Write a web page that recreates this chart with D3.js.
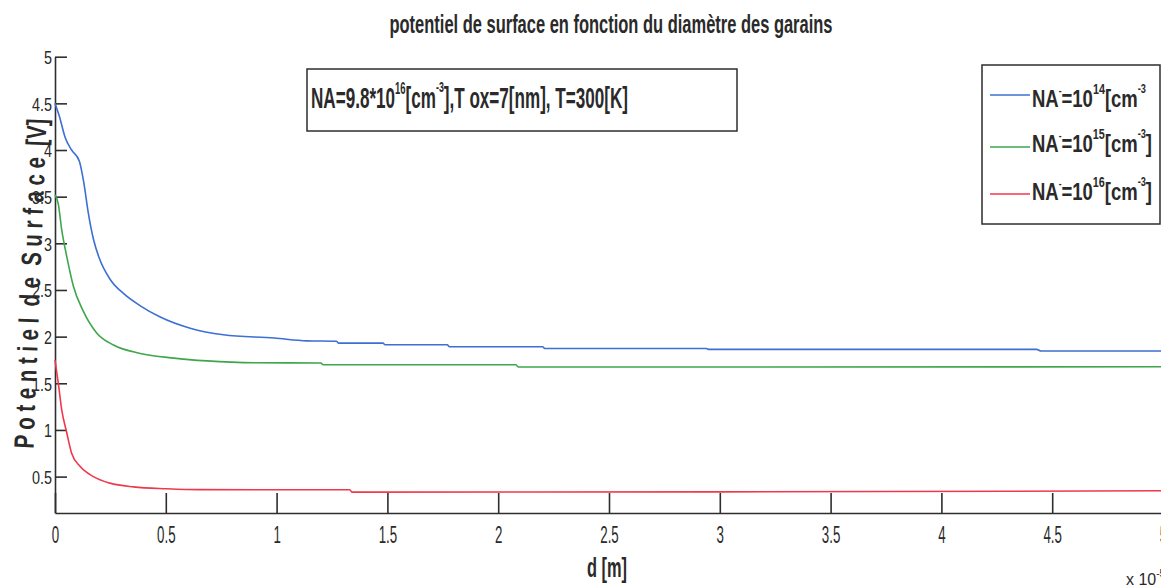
<!DOCTYPE html>
<html><head><meta charset="utf-8">
<script src="https://cdn.jsdelivr.net/npm/d3@7"></script>
<style>
html,body{margin:0;padding:0;background:#fff;}
svg{display:block;}
text{font-family:"Liberation Sans Narrow","Arial Narrow","Liberation Sans",Arial,sans-serif;fill:#2a2a2a;}
</style></head><body>
<svg id="chart" width="1161" height="587"></svg>
<script>
// ---------- data (d in units of 1e-5 m, V in volts) ----------
const titleText = "potentiel de surface en fonction du diamètre des garains";
const xLabelText = "d [m]";
const yLabelText = "P o t e n t i e l  d e  S u r f a c e  [V]";
const xTickValues = [0, 0.5, 1, 1.5, 2, 2.5, 3, 3.5, 4, 4.5, 5];
const xTickLabels = ["0", "0.5", "1", "1.5", "2", "2.5", "3", "3.5", "4", "4.5", "5"];
const yTickValues = [0.5, 1, 1.5, 2, 2.5, 3, 3.5, 4, 4.5, 5];
const yTickLabels = ["0.5", "1", "1.5", "2", "2.5", "3", "3.5", "4", "4.5", "5"];

const blueD = [0, 0.02, 0.045, 0.075, 0.11, 0.13, 0.15, 0.175, 0.2, 0.25, 0.31, 0.385, 0.475, 0.61, 0.76, 0.99, 1.136, 1.27, 1.28, 1.48, 1.49, 1.77, 1.78, 2.2, 2.21, 2.94, 2.95, 4.43, 4.45, 5];
const blueV = [4.5, 4.36, 4.14, 4.0, 3.88, 3.65, 3.33, 3.03, 2.84, 2.61, 2.46, 2.33, 2.21, 2.09, 2.02, 1.985, 1.955, 1.95, 1.931, 1.931, 1.913, 1.913, 1.892, 1.892, 1.873, 1.873, 1.863, 1.863, 1.846, 1.846];

const greenD = [0, 0.015, 0.03, 0.053, 0.083, 0.128, 0.188, 0.264, 0.385, 0.536, 0.686, 0.9, 1.2, 1.21, 2.08, 2.09, 5];
const greenV = [3.52, 3.42, 3.15, 2.86, 2.54, 2.27, 2.04, 1.91, 1.82, 1.77, 1.74, 1.72, 1.717, 1.699, 1.699, 1.675, 1.677];

const redD = [0, 0.015, 0.03, 0.053, 0.075, 0.113, 0.173, 0.248, 0.354, 0.504, 0.654, 1.33, 1.34, 3.0, 5];
const redV = [1.75, 1.5, 1.22, 0.97, 0.75, 0.61, 0.5, 0.43, 0.39, 0.37, 0.36, 0.359, 0.334, 0.336, 0.348];

const seriesNames = ["NA-=1e14", "NA-=1e15", "NA-=1e16"];
const seriesColors = ["#3d6fd4", "#3ea64c", "#f0384c"];
const legendExponents = ["14", "15", "16"];
const legendClosers = ["", "]", "]"];

// ---------- layout ----------
const svg = d3.select("#chart");
const x = d3.scaleLinear().domain([0, 5]).range([55, 1163]);
const y = d3.scaleLinear().domain([0.11, 5]).range([513, 56.7]);
const axisColor = "#2e2e2e";

function fitWidth(sel, perChar) {
  sel.each(function () {
    const s = this.textContent;
    let w = 0;
    for (const c of s) w += (c === "." ? perChar * 0.5 : perChar);
    d3.select(this).attr("textLength", w).attr("lengthAdjust", "spacingAndGlyphs");
  });
}

// title
svg.append("text").attr("x", 611).attr("y", 33).attr("text-anchor", "middle")
  .attr("font-size", 25).attr("font-weight", "bold")
  .attr("textLength", 443).attr("lengthAdjust", "spacingAndGlyphs")
  .text(titleText);

// axes
const xAxis = d3.axisBottom(x).tickValues(xTickValues).tickFormat((d, i) => xTickLabels[i])
  .tickSizeInner(-20).tickSizeOuter(0).tickPadding(4);
const gx = svg.append("g").attr("transform", "translate(0,513)").call(xAxis);
gx.attr("font-family", null);
gx.select(".domain").attr("stroke", axisColor).attr("stroke-width", 1.6);
gx.selectAll(".tick line").attr("stroke", axisColor).attr("stroke-width", 1.6);
gx.selectAll(".tick text").attr("y", 30).attr("dy", null)
  .attr("font-size", 23).attr("fill", "#3a3a3a").call(fitWidth, 7.4);

const yAxis = d3.axisLeft(y).tickValues(yTickValues).tickFormat((d, i) => yTickLabels[i])
  .tickSizeInner(-12).tickSizeOuter(0).tickPadding(3);
const gy = svg.append("g").attr("transform", "translate(55,0)").call(yAxis);
gy.attr("font-family", null);
gy.select(".domain").attr("stroke", axisColor).attr("stroke-width", 1.6);
gy.selectAll(".tick line").attr("stroke", axisColor).attr("stroke-width", 1.6);
gy.selectAll(".tick text").attr("dy", "0.36em")
  .attr("font-size", 19).attr("fill", "#3a3a3a").call(fitWidth, 8);

// axis labels
svg.append("text").attr("x", 607).attr("y", 577).attr("text-anchor", "middle")
  .attr("font-size", 27).attr("font-weight", "bold")
  .attr("textLength", 40).attr("lengthAdjust", "spacingAndGlyphs").text(xLabelText);

const xe = svg.append("text").attr("x", 1126).attr("y", 585).attr("font-size", 16).attr("fill", "#3a3a3a");
xe.append("tspan").text("x 10");
xe.append("tspan").attr("dy", -8).attr("font-size", 10).text("-5");

svg.append("text").attr("transform", "translate(40,284) rotate(-87.7)")
  .style("white-space", "pre")
  .attr("text-anchor", "middle").attr("font-size", 28).attr("font-weight", "bold")
  .attr("textLength", 330).attr("lengthAdjust", "spacingAndGlyphs").text(yLabelText);

// curves
const lineGen = d3.line().curve(d3.curveMonotoneX).x(p => x(p[0])).y(p => y(p[1]));
const seriesData = [
  d3.zip(blueD, blueV),
  d3.zip(greenD, greenV),
  d3.zip(redD, redV)
];
svg.append("g").selectAll("path").data(seriesData).join("path")
  .attr("d", lineGen).attr("fill", "none")
  .attr("stroke", (d, i) => seriesColors[i]).attr("stroke-width", 1.6)
  .attr("stroke-linejoin", "round");

// annotation box
svg.append("rect").attr("x", 307).attr("y", 69).attr("width", 430).attr("height", 62)
  .attr("fill", "#fff").attr("stroke", axisColor).attr("stroke-width", 1.5);
const ann = svg.append("text").attr("x", 311).attr("y", 108).attr("font-size", 29).attr("font-weight", "bold")
  .attr("textLength", 317).attr("lengthAdjust", "spacingAndGlyphs");
ann.append("tspan").text("NA=9.8*10");
ann.append("tspan").attr("dy", -14).attr("font-size", 16).text("16");
ann.append("tspan").attr("dy", 14).text("[cm");
ann.append("tspan").attr("dy", -16).attr("font-size", 15).text("-3");
ann.append("tspan").attr("dy", 16).text("],T ox=7[nm], T=300[K]");

// legend
svg.append("rect").attr("x", 982).attr("y", 65).attr("width", 178).attr("height", 159)
  .attr("fill", "#fff").attr("stroke", axisColor).attr("stroke-width", 1.5);
const legendLineY = [95, 147, 194];
const legendBase = [107, 152, 200];
const legendWidths = [114, 120, 120];
seriesNames.forEach((name, i) => {
  svg.append("line").attr("x1", 990).attr("x2", 1030)
    .attr("y1", legendLineY[i]).attr("y2", legendLineY[i])
    .attr("stroke", seriesColors[i]).attr("stroke-width", 1.6);
  const t = svg.append("text").attr("x", 1032).attr("y", legendBase[i])
    .attr("font-size", 24).attr("font-weight", "bold")
    .attr("textLength", legendWidths[i]).attr("lengthAdjust", "spacingAndGlyphs");
  t.append("tspan").text("NA");
  t.append("tspan").attr("dy", -13).attr("font-size", 11).text("-");
  t.append("tspan").attr("dy", 13).text("=10");
  t.append("tspan").attr("dy", -13).attr("font-size", 14).text(legendExponents[i]);
  t.append("tspan").attr("dy", 13).text("[cm");
  t.append("tspan").attr("dy", -14).attr("font-size", 12).text("-3");
  if (legendClosers[i]) t.append("tspan").attr("dy", 14).text(legendClosers[i]);
});
</script>
</body></html>
